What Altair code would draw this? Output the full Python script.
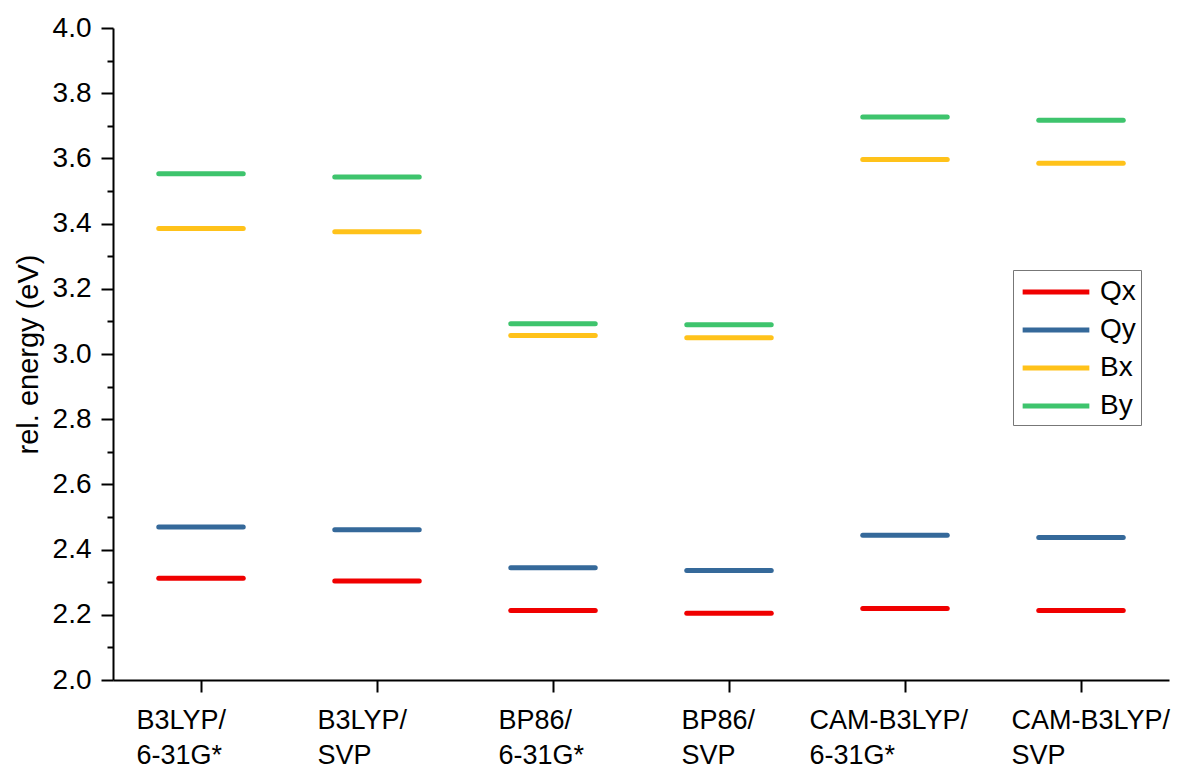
import altair as alt
import pandas as pd

methods = ["B3LYP/\n6-31G*", "B3LYP/\nSVP", "BP86/\n6-31G*", "BP86/\nSVP",
           "CAM-B3LYP/\n6-31G*", "CAM-B3LYP/\nSVP"]
states = ["Qx", "Qy", "Bx", "By"]
qx = [2.312, 2.304, 2.213, 2.205, 2.219, 2.213]
qy = [2.469, 2.461, 2.344, 2.336, 2.444, 2.437]
bx = [3.385, 3.375, 3.057, 3.050, 3.597, 3.585]
by = [3.553, 3.543, 3.093, 3.090, 3.727, 3.717]
colors = ["#f00000", "#35699a", "#ffc21a", "#3ec46d"]
label_offsets = [-65, -60, -55, -48, -96, -70]

series = {"Qx": qx, "Qy": qy, "Bx": bx, "By": by}
rows = []
for s in states:
    for i, m in enumerate(methods):
        rows.append({"method": m, "state": s, "energy": series[s][i],
                     "x0": i + 0.5 - 0.24, "x1": i + 0.5 + 0.24})
df = pd.DataFrame(rows)

FONT = "Liberation Sans"
label_expr = "split([" + ",".join("'" + m.replace("\n", "\\n") + "'" for m in methods) + "][floor(datum.value)], '\\n')"

offset_cond = {
    "condition": [{"test": f"datum.value < {i + 1}", "value": label_offsets[i]} for i in range(5)],
    "value": label_offsets[5],
}

x_axis = alt.Axis(values=[i + 0.5 for i in range(6)], labelExpr=label_expr, title=None,
                  grid=False, tickSize=12, tickWidth=2, tickColor="black",
                  domainColor="black", domainWidth=2, labelFont=FONT, labelFontSize=27,
                  labelColor="black", labelAlign="left", labelBaseline="top",
                  labelLineHeight=35, labelPadding=15, labelOffset=offset_cond)

y_major = alt.Axis(values=[2.0 + 0.2 * k for k in range(11)], format=".1f",
                   title="rel. energy (eV)", titleFont=FONT, titleFontSize=29,
                   titleFontWeight="normal", titleColor="black", titlePadding=9,
                   grid=False, tickSize=12, tickWidth=2, tickColor="black",
                   domainColor="black", domainWidth=2, labelFont=FONT,
                   labelFontSize=28, labelColor="black", labelPadding=10, orient="left")

y_minor = alt.Axis(values=[2.1 + 0.2 * k for k in range(10)], labels=False, title=None,
                   grid=False, tickSize=6, tickWidth=2, tickColor="black",
                   domain=False, orient="left")

xs = alt.Scale(domain=[0, 6], nice=False, zero=False)
ys = alt.Scale(domain=[2, 4], nice=False, zero=False)

lines = alt.Chart(df).mark_rule(strokeWidth=5, strokeCap="round").encode(
    x=alt.X("x0:Q", scale=xs, axis=x_axis),
    x2="x1:Q",
    y=alt.Y("energy:Q", scale=ys, axis=y_major),
    color=alt.Color("state:N", scale=alt.Scale(domain=states, range=colors),
                    sort=states,
                    legend=alt.Legend(title=None, orient="none", legendX=900, legendY=242,
                                      symbolType="M-2.3,0H2.3", symbolSize=841,
                                      symbolStrokeWidth=5, symbolOffset=21,
                                      labelFont=FONT, labelFontSize=28, labelColor="black",
                                      labelOffset=27, rowPadding=7, padding=5,
                                      strokeColor="#777777", fillColor="white")),
)

minor = alt.Chart(df).mark_rule(opacity=0).encode(
    x=alt.X("x0:Q", scale=xs, axis=x_axis),
    x2="x1:Q",
    y=alt.Y("energy:Q", scale=ys, axis=y_minor),
)

chart = alt.layer(lines, minor).resolve_axis(y="independent").properties(
    width=1056, height=652,
    background="white",
    autosize=alt.AutoSizeParams(type="none"),
    padding={"left": 105, "top": 20, "right": 12, "bottom": 90},
).configure_view(strokeWidth=0, stroke=None)

chart.save("out.html", embed_options={"renderer": "svg", "actions": False})
